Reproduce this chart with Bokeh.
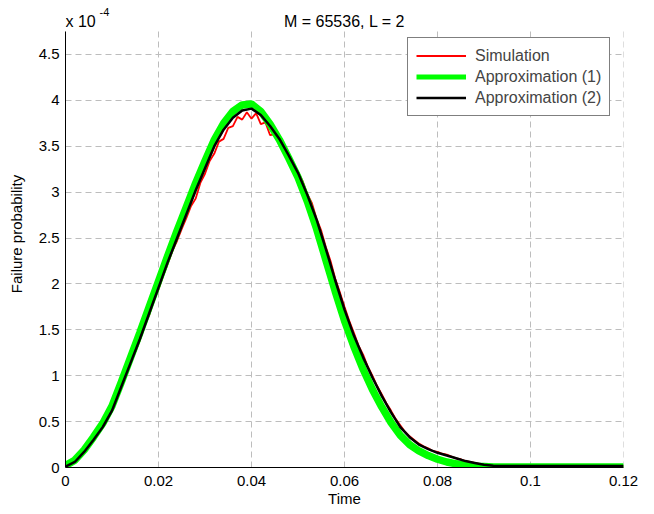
from bokeh.plotting import figure
from bokeh.models import (Range1d, FixedTicker, CustomJSTickFormatter, Label,
                          Legend, LegendItem, ColumnDataSource)
from bokeh.embed import file_html
from bokeh.resources import INLINE

# ---- data (failure probability in units of 1e-4) ----
t_sim = [0.000, 0.001, 0.002, 0.003, 0.004, 0.005, 0.006, 0.007, 0.008, 0.009,
         0.010, 0.011, 0.012, 0.013, 0.014, 0.015, 0.016, 0.017, 0.018, 0.019,
         0.020, 0.021, 0.022, 0.023, 0.024, 0.025, 0.026, 0.027, 0.028, 0.029,
         0.030, 0.031, 0.032, 0.033, 0.034, 0.035, 0.036, 0.037, 0.038, 0.039,
         0.040, 0.041, 0.042, 0.043, 0.044, 0.045, 0.046, 0.047, 0.048, 0.049,
         0.050, 0.051, 0.052, 0.053, 0.054, 0.055, 0.056, 0.057, 0.058, 0.059,
         0.060, 0.061, 0.062, 0.063, 0.064, 0.065, 0.066, 0.067, 0.068, 0.069,
         0.070, 0.071, 0.072, 0.073, 0.074, 0.075, 0.076, 0.077, 0.078, 0.079,
         0.080, 0.081, 0.082, 0.083, 0.084, 0.085, 0.086, 0.087, 0.088, 0.089,
         0.090, 0.091, 0.092, 0.093, 0.094, 0.100, 0.110, 0.120]
simulation = [0.01, 0.03, 0.07, 0.10, 0.17, 0.24, 0.29, 0.38, 0.44, 0.52,
              0.63, 0.74, 0.88, 1.00, 1.15, 1.26, 1.39, 1.55, 1.66, 1.83,
              1.94, 2.09, 2.22, 2.36, 2.47, 2.60, 2.72, 2.85, 2.93, 3.10,
              3.20, 3.34, 3.42, 3.55, 3.58, 3.70, 3.72, 3.82, 3.79, 3.87,
              3.80, 3.86, 3.74, 3.76, 3.62, 3.63, 3.52, 3.47, 3.38, 3.28,
              3.22, 3.12, 2.98, 2.88, 2.71, 2.58, 2.40, 2.25, 2.06, 1.91,
              1.75, 1.60, 1.47, 1.33, 1.23, 1.10, 1.00, 0.89, 0.80, 0.70,
              0.62, 0.53, 0.46, 0.39, 0.34, 0.30, 0.26, 0.23, 0.21, 0.18,
              0.17, 0.15, 0.14, 0.12, 0.10, 0.09, 0.07, 0.06, 0.05, 0.04,
              0.03, 0.03, 0.02, 0.02, 0.015, 0.015, 0.015, 0.015]

t_approx = [0.000, 0.002, 0.004, 0.006, 0.008, 0.010, 0.012, 0.014, 0.016, 0.018,
            0.020, 0.022, 0.024, 0.026, 0.028, 0.030, 0.032, 0.034, 0.036, 0.038,
            0.040, 0.042, 0.044, 0.046, 0.048, 0.050, 0.052, 0.054, 0.056, 0.058,
            0.060, 0.062, 0.064, 0.066, 0.068, 0.070, 0.072, 0.074, 0.076, 0.078,
            0.080, 0.082, 0.084, 0.086, 0.088, 0.090, 0.092, 0.094, 0.100, 0.110,
            0.120]
approx1 = [0.02, 0.08, 0.19, 0.33, 0.48, 0.67, 0.93, 1.20, 1.47, 1.75,
           2.03, 2.31, 2.58, 2.84, 3.10, 3.34, 3.57, 3.75, 3.88, 3.95,
           3.96, 3.88, 3.74, 3.57, 3.37, 3.16, 2.90, 2.60, 2.26, 1.92,
           1.60, 1.32, 1.07, 0.85, 0.66, 0.49, 0.35, 0.25, 0.18, 0.13,
           0.09, 0.06, 0.04, 0.025, 0.015, 0.01, 0.005, 0.005, 0.005, 0.005,
           0.005]
approx2 = [0.01, 0.06, 0.17, 0.30, 0.44, 0.62, 0.88, 1.14, 1.40, 1.68,
           1.96, 2.24, 2.50, 2.76, 3.02, 3.26, 3.50, 3.68, 3.81, 3.89,
           3.91, 3.84, 3.72, 3.58, 3.40, 3.21, 2.97, 2.70, 2.38, 2.04,
           1.72, 1.44, 1.20, 0.98, 0.78, 0.60, 0.44, 0.33, 0.25, 0.20,
           0.16, 0.13, 0.10, 0.07, 0.05, 0.03, 0.02, 0.015, 0.015, 0.015,
           0.015]

x_ticks = [0, 0.02, 0.04, 0.06, 0.08, 0.1, 0.12]
y_ticks = [0, 0.5, 1, 1.5, 2, 2.5, 3, 3.5, 4, 4.5]
y_axis_top = 4.75
series_names = ["Simulation", "Approximation (1)", "Approximation (2)"]
title_text = "M = 65536, L = 2"

FONT = "Liberation Sans"

W, H = 648, 510
LEFT, RIGHT_PAD, BOTTOM_PAD = 65, 25, 43
AXIS_TOP_PX = 31                       # pixel row of the axis top
frame_h = H - BOTTOM_PAD                # frame spans from canvas top to axis
y_end = y_axis_top * frame_h / (frame_h - AXIS_TOP_PX)

p = figure(width=W, height=H, output_backend="svg", toolbar_location=None,
           x_range=Range1d(0, 0.12), y_range=Range1d(0, y_end),
           min_border_left=LEFT, min_border_right=RIGHT_PAD, min_border_top=0,
           min_border_bottom=BOTTOM_PAD)
p.outline_line_color = None
p.background_fill_color = "white"
p.border_fill_color = "white"

GRID_COLOR = "#bdbdbd"
GRID_DASH = "6 4"
# horizontal grid from the y ticks
p.ygrid.ticker = FixedTicker(ticks=y_ticks)
p.ygrid.grid_line_color = GRID_COLOR
p.ygrid.grid_line_dash = GRID_DASH
# vertical grid lines, limited to the axis height
p.xgrid.visible = False
p.segment(x0=x_ticks, y0=[y_ticks[0]] * len(x_ticks), x1=x_ticks,
          y1=[y_axis_top] * len(x_ticks), line_color=GRID_COLOR,
          line_dash=GRID_DASH, line_width=1)

fmt = CustomJSTickFormatter(code="return String(Number(tick.toFixed(4)));")
for ax, ticks in ((p.xaxis, x_ticks), (p.yaxis, y_ticks)):
    ax.ticker = FixedTicker(ticks=ticks)
    ax.formatter = fmt
    ax.axis_line_color = "black"
    ax.axis_line_width = 1
    ax.major_tick_in = 0
    ax.major_tick_out = 0
    ax.minor_tick_line_color = None
    ax.major_label_text_font = FONT
    ax.major_label_text_font_size = "15px"
    ax.major_label_text_color = "black"
    ax.axis_label_text_font = FONT
    ax.axis_label_text_font_size = "15px"
    ax.axis_label_text_font_style = "normal"
    ax.axis_label_text_color = "black"
p.yaxis.bounds = (0, y_axis_top)

p.xaxis.axis_label = "Time"
p.yaxis.axis_label = "Failure probability"
p.xaxis.major_label_standoff = 8
p.xaxis.axis_label_standoff = 1
p.yaxis.major_label_standoff = 6
p.yaxis.axis_label_standoff = 11

# curves
src_sim = ColumnDataSource(dict(t=t_sim, v=simulation))
src_apx = ColumnDataSource(dict(t=t_approx, a1=approx1, a2=approx2))
r_sim = p.line("t", "v", source=src_sim, line_color="#ff0000", line_width=1.8)
r_a1_key = p.line("t", "a1", source=src_apx, line_color="#00ff00", line_width=5)
p.line("t", "a1", source=src_apx, line_color="#00ff00", line_width=7.5)
r_a2 = p.line("t", "a2", source=src_apx, line_color="#000000", line_width=2.5)

legend = Legend(items=[LegendItem(label=series_names[0], renderers=[r_sim]),
                       LegendItem(label=series_names[1], renderers=[r_a1_key]),
                       LegendItem(label=series_names[2], renderers=[r_a2])],
                location=(342, frame_h - 116))
legend.padding = 8
legend.spacing = 2
legend.glyph_width = 50
legend.glyph_height = 19
legend.label_height = 19
legend.label_standoff = 9
legend.label_text_font = FONT
legend.label_text_font_size = "16px"
legend.border_line_color = "black"
legend.border_line_width = 1
legend.background_fill_color = "white"
legend.background_fill_alpha = 1
p.add_layout(legend, "center")

# title and axis exponent (inside the tall frame, above the axis top)
plot_w = W - LEFT - RIGHT_PAD
p.add_layout(Label(x=plot_w / 2, y=frame_h - 21, x_units="screen", y_units="screen",
                   text=title_text, text_align="center", text_baseline="alphabetic",
                   text_font=FONT, text_font_size="16px", text_color="black"))
p.add_layout(Label(x=0, y=frame_h - 21, x_units="screen", y_units="screen",
                   text="x 10", text_align="left", text_baseline="alphabetic",
                   text_font=FONT, text_font_size="16px", text_color="black"))
p.add_layout(Label(x=34, y=frame_h - 11, x_units="screen", y_units="screen",
                   text="-4", text_align="left", text_baseline="alphabetic",
                   text_font=FONT, text_font_size="11px", text_color="black"))

open("out.html", "w").write(file_html(p, INLINE))
